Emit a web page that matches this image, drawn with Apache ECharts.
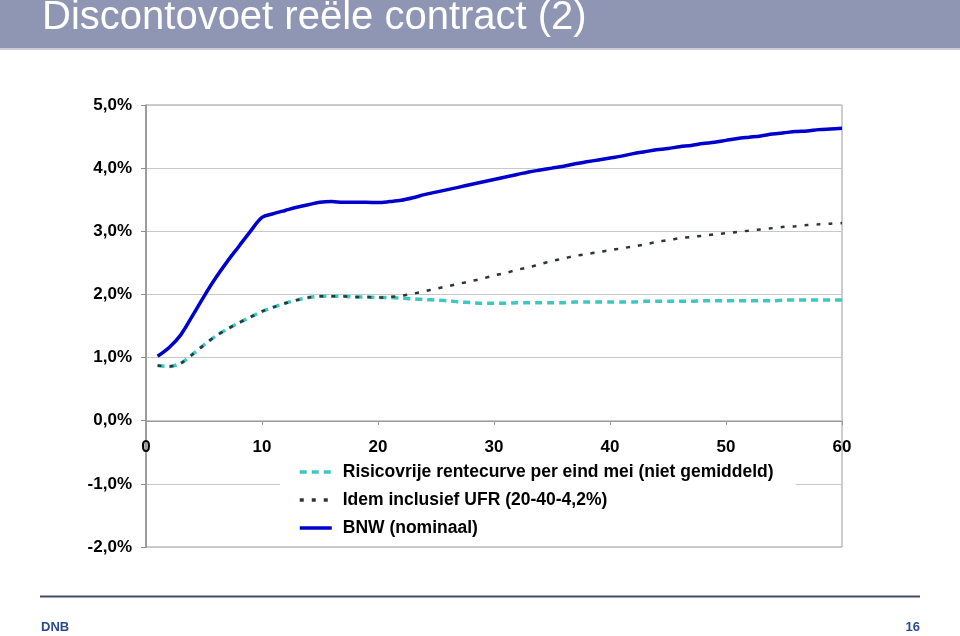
<!DOCTYPE html>
<html>
<head>
<meta charset="utf-8">
<script src="https://cdn.jsdelivr.net/npm/echarts@6/dist/echarts.min.js"></script>
<style>
html,body{margin:0;padding:0;background:#fff;}
#chart{width:960px;height:636px;}
</style>
</head>
<body>
<div id="chart"></div>
<script>
var titleText = 'Discontovoet reële contract (2)';
var seriesNames = [
  'Risicovrije rentecurve per eind mei (niet gemiddeld)',
  'Idem inclusief UFR (20-40-4,2%)',
  'BNW (nominaal)'
];
var years = [1,2,3,4,5,6,7,8,9,10,11,12,13,14,15,16,17,18,19,20,
  21,22,23,24,25,26,27,28,29,30,31,32,33,34,35,36,37,38,39,40,
  41,42,43,44,45,46,47,48,49,50,51,52,53,54,55,56,57,58,59,60];
var risicovrij = [0.875,0.86,0.91,1.05,1.20,1.34,1.45,1.55,1.64,1.73,1.80,1.86,1.91,1.95,1.97,1.97,1.97,1.96,1.96,1.95,
  1.95,1.94,1.93,1.92,1.91,1.90,1.88,1.87,1.86,1.86,1.86,1.87,1.87,1.87,1.87,1.87,1.88,1.88,1.88,1.88,
  1.88,1.88,1.89,1.89,1.89,1.89,1.89,1.90,1.90,1.90,1.90,1.90,1.90,1.90,1.91,1.91,1.91,1.91,1.91,1.91];
var inclUFR = [0.875,0.86,0.91,1.05,1.20,1.34,1.45,1.55,1.64,1.73,1.80,1.86,1.91,1.95,1.97,1.97,1.97,1.96,1.96,1.95,
  1.96,1.98,2.01,2.05,2.09,2.13,2.17,2.21,2.25,2.30,2.34,2.39,2.43,2.48,2.53,2.57,2.61,2.64,2.67,2.70,
  2.73,2.76,2.79,2.83,2.86,2.89,2.91,2.93,2.95,2.97,2.99,3.01,3.03,3.05,3.07,3.08,3.10,3.11,3.12,3.13];
var bnw = [1.02,1.16,1.36,1.66,1.97,2.26,2.52,2.76,3.00,3.22,3.28,3.33,3.38,3.42,3.46,3.47,3.46,3.46,3.46,3.455,
  3.47,3.49,3.53,3.58,3.62,3.66,3.70,3.74,3.78,3.82,3.86,3.90,3.94,3.97,4.00,4.03,4.07,4.10,4.13,4.16,
  4.19,4.23,4.26,4.29,4.31,4.34,4.36,4.39,4.41,4.44,4.47,4.49,4.51,4.54,4.56,4.58,4.59,4.61,4.62,4.63];
var footerLeft = 'DNB';
var footerRight = '16';

function pairs(xs, ys){ return xs.map(function(x,i){ return [x, ys[i]]; }); }

var chart = echarts.init(document.getElementById('chart'), null, {renderer:'canvas'});
var font = 'Liberation Sans, Arial, sans-serif';
chart.setOption({
  animation: false,
  backgroundColor: '#ffffff',
  textStyle: {fontFamily: font},
  graphic: [
    {type:'rect', shape:{x:0,y:0,width:960,height:48}, style:{fill:'#8F96B3'}, z:10},
    {type:'rect', shape:{x:0,y:48,width:960,height:2}, style:{fill:'#C9CCDA'}, z:10},
    {type:'text', x:42, y:18, style:{text:titleText, fill:'#ffffff', font:'40px Liberation Sans, Arial, sans-serif', verticalAlign:'middle'}, z:11},
    {type:'line', shape:{x1:40,y1:596.5,x2:920,y2:596.5}, style:{stroke:'#3F4A6A', lineWidth:2}, z:10},
    {type:'text', x:41, y:627, style:{text:footerLeft, fill:'#2B4C8C', font:'bold 13px Liberation Sans, Arial, sans-serif', verticalAlign:'middle'}, z:10},
    {type:'text', x:920, y:627, style:{text:footerRight, fill:'#2B4C8C', font:'bold 13px Liberation Sans, Arial, sans-serif', verticalAlign:'middle', align:'right'}, z:10}
  ],
  grid: {left:146, right:118, top:105, bottom:89, show:true, borderColor:'#9a9a9a', borderWidth:1, containLabel:false},
  legend: {
    orient:'vertical', left:280, top:458,
    backgroundColor:'#ffffff',
    padding:[5,22,5,18],
    itemWidth:32, itemHeight:18, itemGap:10,
    itemStyle:{opacity:0},
    lineStyle:{width:3.5},
    textStyle:{fontSize:17.5, fontWeight:'bold', color:'#000', fontFamily:font, padding:[0,0,0,6]},
    data: seriesNames
  },
  xAxis: {
    type:'value', min:0, max:60, interval:10,
    position:'bottom', offset:-126,
    axisLine:{show:true, onZero:false, lineStyle:{color:'#9a9a9a', width:1}},
    axisTick:{show:true, length:4, lineStyle:{color:'#9a9a9a'}},
    axisLabel:{fontSize:17, fontWeight:'bold', color:'#000', margin:18, fontFamily:font},
    splitLine:{show:false}
  },
  yAxis: {
    type:'value', min:-2, max:5, interval:1,
    axisLine:{show:true, lineStyle:{color:'#8c8c8c', width:1.5}},
    axisTick:{show:true, length:5, lineStyle:{color:'#8c8c8c'}},
    axisLabel:{fontSize:17, fontWeight:'bold', color:'#000', margin:14, fontFamily:font,
      formatter:function(v){ return v.toFixed(1).replace('.', ',') + '%'; }},
    splitLine:{show:true, lineStyle:{color:'#c8c8c8', width:1}}
  },
  series: [
    {name:seriesNames[0], type:'line', data:pairs(years, risicovrij), symbol:'none', smooth:0.3,
      lineStyle:{color:'#3CC8C0', width:3.5, type:[7,5]}, itemStyle:{color:'#3CC8C0'}, z:2},
    {name:seriesNames[1], type:'line', data:pairs(years, inclUFR), symbol:'none', smooth:0.3,
      lineStyle:{color:'#2F3435', width:2.5, type:[4,8]}, itemStyle:{color:'#2F3435'}, z:3},
    {name:seriesNames[2], type:'line', data:pairs(years, bnw), symbol:'none', smooth:0.3,
      lineStyle:{color:'#0000CC', width:3.5}, itemStyle:{color:'#0000CC'}, z:4}
  ]
});
</script>
</body>
</html>
